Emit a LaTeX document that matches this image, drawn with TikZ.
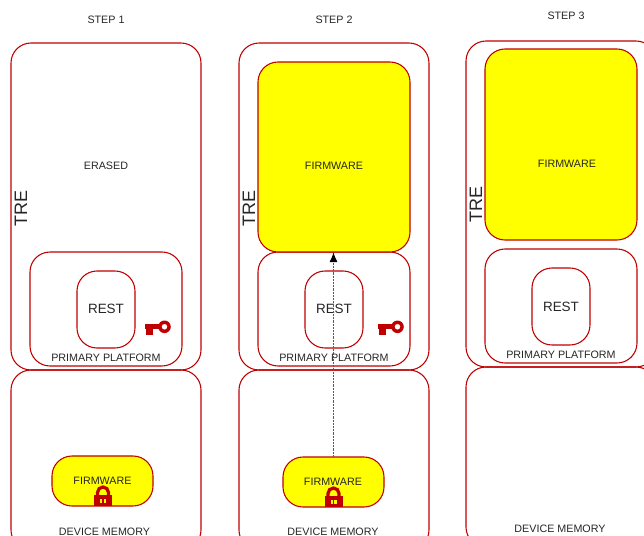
\documentclass[tikz,border=0pt]{standalone}
\usepackage{fontspec}
\usetikzlibrary{arrows.meta}
\setmainfont{Liberation Sans}
\definecolor{boxred}{HTML}{C00000}
\definecolor{fw}{HTML}{FFFF00}
\tikzset{
  x=0.75pt,y=-0.75pt,
  box/.style={draw=boxred,line width=0.8pt,rounded corners=#1,inner sep=0pt,outer sep=0pt},
  box/.default=15pt,
  fwbox/.style={box=#1,fill=fw},
  small/.style={font=\fontsize{8.05pt}{10pt}\selectfont,text=black!85,inner sep=0pt,yshift=-0.75pt},
  rest/.style={font=\fontsize{10.1pt}{12pt}\selectfont,text=black!85,inner sep=0pt,yshift=-0.75pt},
  tre/.style={font=\fontsize{13.5pt}{15pt}\selectfont,text=black!85,inner sep=0pt,rotate=90},
  icon/.style={fill=boxred,draw=none},
}
\newcommand{\rbox}[6]{\node[#1,minimum width=#4*0.75pt,minimum height=#5*0.75pt] (#2) at (#3) {#6};}
\newcommand{\keyicon}[2]{%
  \begin{scope}[shift={(#1,#2)}]
    \fill[icon,even odd rule] (19.5,0) circle (6.3) (19.5,0) circle (2.9);
    \fill[icon] (0,-2.5) rectangle (15,2.5);
    \fill[icon] (1,2) rectangle (8,8);
  \end{scope}}
\newcommand{\lockicon}[2]{%
  \begin{scope}[shift={(#1,#2)}]
    \draw[boxred,line width=2.4pt] (-5.5,0) -- (-5.5,-6.5) arc (180:360:5.5) -- (5.5,0);
    \fill[icon] (-9,-4) rectangle (9,7);
    \fill[fw] (-3,-0.5) rectangle (3,3.5);
    \fill[icon] (-0.9,-1) rectangle (0.9,4);
  \end{scope}}
\begin{document}
\begin{tikzpicture}
\useasboundingbox (0,0) rectangle (644,536);
\clip (0,0) rectangle (644,536);
\fill[white] (0,0) rectangle (644,536);
% step 1
\node[small] (s1) at (106,19) {STEP 1};
\rbox{box}{tre1}{106,206.5}{190}{327}{}
\rbox{box}{dev1}{106,460}{190}{180}{}
\rbox{box}{pri1}{106,309}{152}{114}{}
\rbox{box}{rest1}{106,309.5}{58}{77}{}
\rbox{fwbox=15pt}{fw1}{102.5,481}{101}{50}{}
\node[small] (er1) at (106,165) {ERASED};
\node[rest] (rl1) at (106,308) {REST};
\node[small] (pl1) at (106,357) {PRIMARY PLATFORM};
\node[small] (fl1) at (102.5,480) {FIRMWARE};
\node[small] (dl1) at (104.5,531) {DEVICE MEMORY};
\node[tre] (tl1) at (21,208) {TRE};
\keyicon{145}{326.8}
\lockicon{103}{499}
% step 2
\node[small] (s2) at (334,19) {STEP 2};
\rbox{box}{tre2}{334,206.5}{190}{327}{}
\rbox{box}{dev2}{334,460}{190}{180}{}
\rbox{box}{pri2}{334,309}{152}{114}{}
\rbox{box}{rest2}{334,309.5}{58}{77}{}
\rbox{fwbox=15pt}{big2}{334,157}{152}{190}{}
\rbox{fwbox=15pt}{fw2}{333.5,482}{101}{50}{}
\node[small] (bl2) at (334,165) {FIRMWARE};
\node[rest] (rl2) at (334,308) {REST};
\node[small] (pl2) at (334,357) {PRIMARY PLATFORM};
\node[small] (fl2) at (333,481) {FIRMWARE};
\node[small] (dl2) at (333,531) {DEVICE MEMORY};
\node[tre] (tl2) at (249,208) {TRE};
\draw[black!65,dash pattern=on 1.6pt off 0.8pt,line width=1pt,-{Latex[length=7.5pt,width=6pt,black]}] (fw2.north) -- (fw2.north |- big2.south);
\keyicon{378}{326.8}
\lockicon{333.5}{500}
% step 3
\node[small] (s3) at (566,15) {STEP 3};
\rbox{box}{tre3}{561,204}{190}{326}{}
\rbox{box}{dev3}{561,457}{190}{180}{}
\rbox{box}{pri3}{561,306}{152}{114}{}
\rbox{box}{rest3}{561,306.5}{58}{77}{}
\rbox{fwbox=15pt}{big3}{561,144.5}{152}{191}{}
\node[small] (fl3) at (567,163) {FIRMWARE};
\node[rest] (rl3) at (561,306) {REST};
\node[small] (pl3) at (561,354) {PRIMARY PLATFORM};
\node[small] (dl3) at (560,528) {DEVICE MEMORY};
\node[tre] (tl3) at (476,204) {TRE};
\end{tikzpicture}
\end{document}
